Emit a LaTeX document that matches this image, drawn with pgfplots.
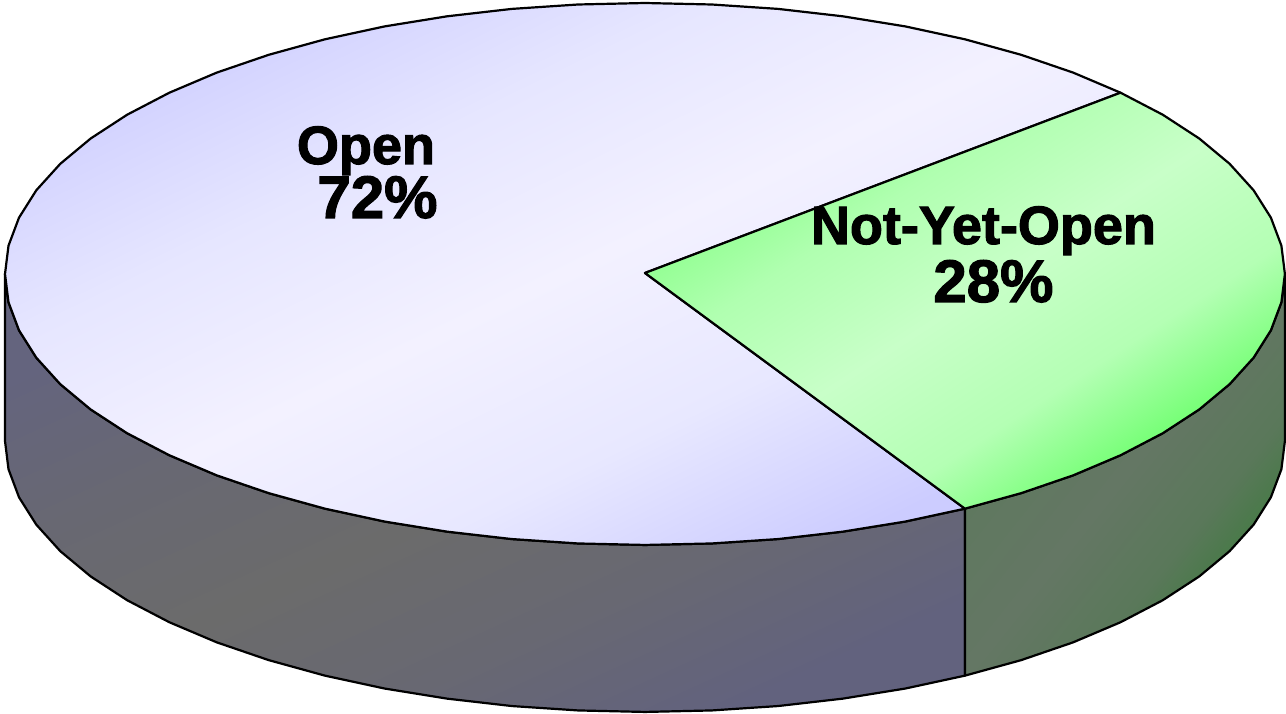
\documentclass[border=0pt]{standalone}
\usepackage{pgfplots}
\usepackage{fontspec}
\pgfplotsset{compat=1.18}
\newfontfamily\lab[FakeBold=2]{Liberation Sans Bold}
\definecolor{oa}{HTML}{D0D0FF}
\definecolor{oam}{HTML}{E6E6FF}
\definecolor{ob}{HTML}{F3F1FF}
\definecolor{ocm}{HTML}{E8E8FF}
\definecolor{oc}{HTML}{CCCCFF}
\definecolor{ga}{HTML}{80FF80}
\definecolor{gam}{HTML}{B0FFB0}
\definecolor{gb}{HTML}{C8FFC8}
\definecolor{gcm}{HTML}{B4FFB4}
\definecolor{gc}{HTML}{62FF62}
\definecolor{wa}{HTML}{64647E}
\definecolor{wam}{HTML}{686872}
\definecolor{wb}{HTML}{6B6B6B}
\definecolor{wcm}{HTML}{686872}
\definecolor{wc}{HTML}{62627E}
\definecolor{xa}{HTML}{587C58}
\definecolor{xam}{HTML}{607860}
\definecolor{xb}{HTML}{647764}
\definecolor{xcm}{HTML}{5A785A}
\definecolor{xc}{HTML}{387C38}
\pgfdeclareverticalshading{openT}{100bp}{color(0bp)=(oc); color(25bp)=(oc); color(37.5bp)=(ocm); color(50bp)=(ob); color(62.5bp)=(oam); color(75bp)=(oa); color(100bp)=(oa)}
\pgfdeclareverticalshading{notT}{100bp}{color(0bp)=(gc); color(25bp)=(gc); color(37.5bp)=(gcm); color(50bp)=(gb); color(62.5bp)=(gam); color(75bp)=(ga); color(100bp)=(ga)}
\pgfdeclareverticalshading{openW}{100bp}{color(0bp)=(wc); color(25bp)=(wc); color(37.5bp)=(wcm); color(50bp)=(wb); color(62.5bp)=(wam); color(75bp)=(wa); color(100bp)=(wa)}
\pgfdeclareverticalshading{notW}{100bp}{color(0bp)=(xc); color(25bp)=(xc); color(37.5bp)=(xcm); color(50bp)=(xb); color(62.5bp)=(xam); color(75bp)=(xa); color(100bp)=(xa)}
\begin{document}
\begin{tikzpicture}
\begin{axis}[
  hide axis, scale only axis, width=1286pt, height=714pt,
  xmin=0, xmax=1286, ymin=0, ymax=714, y dir=reverse, clip=false,
  every axis plot/.append style={mark=none, draw=black, line width=2.2pt, line join=round, shade}
]
% side wall of Open
\addplot[shading=openW, shading angle=24.5] coordinates {
(5,274)(8.5,302.3)(19,330.3)(36.3,357.7)(60.3,384.2)(90.7,409.5)(127.2,433.3)(169.4,455.3)
(216.8,475.4)(268.8,493.2)(325,508.7)(384.7,521.6)(447.2,531.7)(511.9,539.1)(578.1,543.5)
(645,545)(711.9,543.5)(778.1,539.1)(842.8,531.7)(905.3,521.6)(965,508.7)
(965,675.7)(905.3,688.6)(842.8,698.7)(778.1,706.1)(711.9,710.5)(645,712)(578.1,710.5)
(511.9,706.1)(447.2,698.7)(384.7,688.6)(325,675.7)(268.8,660.2)(216.8,642.4)(169.4,622.3)
(127.2,600.3)(90.7,576.5)(60.3,551.2)(36.3,524.7)(19,497.3)(8.5,469.3)(5,441)
} --cycle;
% side wall of Not-Yet-Open
\addplot[shading=notW, shading angle=51.5] coordinates {
(965,508.7)(1021.2,493.2)(1073.2,475.4)(1120.6,455.3)(1162.8,433.3)(1199.3,409.5)(1229.7,384.2)
(1253.7,357.7)(1271,330.3)(1281.5,302.3)(1285,274)
(1285,441)(1281.5,469.3)(1271,497.3)(1253.7,524.7)(1229.7,551.2)(1199.3,576.5)(1162.8,600.3)
(1120.6,622.3)(1073.2,642.4)(1021.2,660.2)(965,675.7)
} --cycle;
% top of Open
\addplot[shading=openT, shading angle=25.9] coordinates {
(645,273)(1120.6,92.7)(1073.2,72.6)(1021.2,54.8)(965,39.3)(905.3,26.4)(842.8,16.3)(778.1,8.9)
(711.9,4.5)(645,3)(578.1,4.5)(511.9,8.9)(447.2,16.3)(384.7,26.4)(325,39.3)(268.8,54.8)
(216.8,72.6)(169.4,92.7)(127.2,114.7)(90.7,138.5)(60.3,163.8)(36.3,190.3)(19,217.7)(8.5,245.7)
(5,274)(8.5,302.3)(19,330.3)(36.3,357.7)(60.3,384.2)(90.7,409.5)(127.2,433.3)(169.4,455.3)
(216.8,475.4)(268.8,493.2)(325,508.7)(384.7,521.6)(447.2,531.7)(511.9,539.1)(578.1,543.5)
(645,545)(711.9,543.5)(778.1,539.1)(842.8,531.7)(905.3,521.6)(965,508.7)
} --cycle;
% top of Not-Yet-Open
\addplot[shading=notT, shading angle=33] coordinates {
(645,273)(1120.6,92.7)(1162.8,114.7)(1199.3,138.5)(1229.7,163.8)(1253.7,190.3)(1271,217.7)
(1281.5,245.7)(1285,274)(1281.5,302.3)(1271,330.3)(1253.7,357.7)(1229.7,384.2)(1199.3,409.5)
(1162.8,433.3)(1120.6,455.3)(1073.2,475.4)(1021.2,493.2)(965,508.7)
} --cycle;
\node[anchor=base, inner sep=0pt] at (axis cs:366,164) {\lab\fontsize{54}{60}\selectfont Open};
\node[anchor=base, inner sep=0pt] at (axis cs:377.5,218) {\lab\fontsize{60}{60}\selectfont 72\%};
\node[anchor=base, inner sep=0pt] at (axis cs:983.5,244) {\lab\fontsize{54}{60}\selectfont Not-Yet-Open};
\node[anchor=base, inner sep=0pt] at (axis cs:993.5,302) {\lab\fontsize{60}{60}\selectfont 28\%};
\end{axis}
\path (0,0) rectangle (1286pt,714pt);
\end{tikzpicture}
\end{document}
